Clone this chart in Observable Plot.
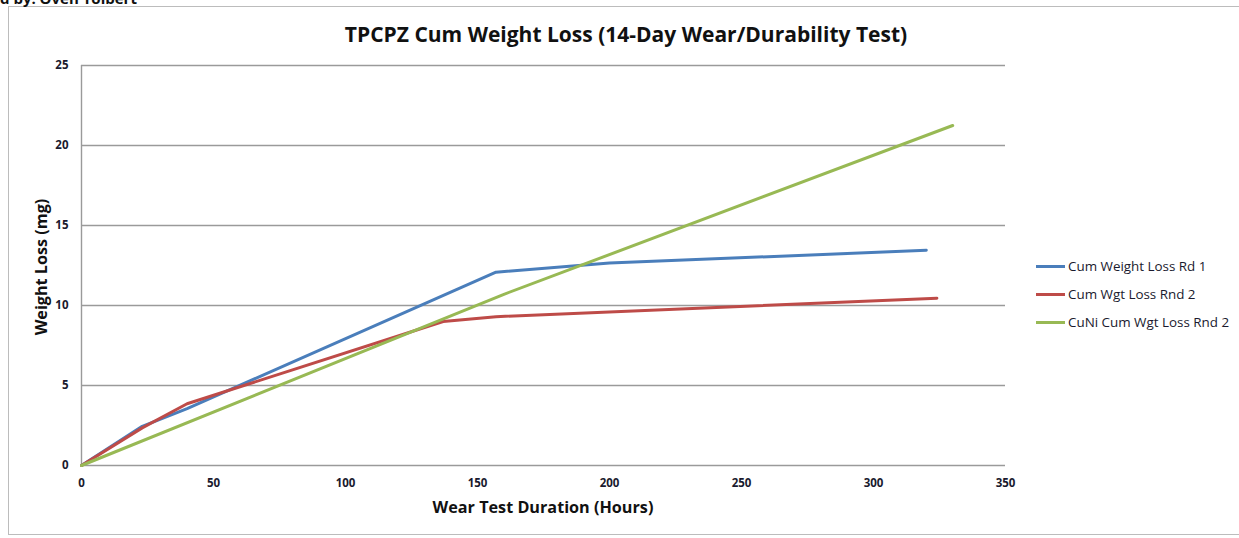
<!DOCTYPE html>
<html>
<head>
<meta charset="utf-8">
<script src="https://cdn.jsdelivr.net/npm/d3@7"></script>
<script src="https://cdn.jsdelivr.net/npm/@observablehq/plot@0.6"></script>
<style>
  html, body { margin: 0; padding: 0; background: #fff; }
  body { width: 1239px; height: 538px; overflow: hidden; position: relative; font-family: "Open Sans", Lato, sans-serif; }
  #frame { position: absolute; left: 8px; top: 6px; width: 1250px; height: 529px; border: 1.5px solid #bcbcbc; box-sizing: border-box; }
  #chart { position: absolute; left: 0; top: 0; }
  #chart svg text { font-weight: 700; }
  .abs { position: absolute; white-space: nowrap; color: #111; font-weight: 700; line-height: 1; }
  #credit { left: 0; top: -9px; font-size: 15px; }
  #title { left: 626px; top: 24px; transform: translateX(-50%); font-size: 21px; }
  #xlabel { left: 543px; top: 499px; transform: translateX(-50%); font-size: 16.2px; }
  #ylabel { left: 41px; top: 267px; transform: translate(-50%, -50%) rotate(-90deg); font-size: 16.2px; }
  #legend { position: absolute; left: 1036px; top: 252px; }
  .item { display: flex; align-items: center; height: 28px; font-size: 13.4px; color: #1a1a2e; }
  .sw { width: 29px; height: 3px; margin-right: 3px; }
</style>
</head>
<body>
<div id="frame"></div>
<div id="chart"></div>
<div class="abs" id="credit">d by: Oven Tolbert</div>
<div class="abs" id="title">TPCPZ Cum Weight Loss (14-Day Wear/Durability Test)</div>
<div class="abs" id="xlabel">Wear Test Duration (Hours)</div>
<div class="abs" id="ylabel">Weight Loss (mg)</div>
<div id="legend"></div>
<script>
// ---- data ----
const seriesNames = ["Cum Weight Loss Rd 1", "Cum Wgt Loss Rnd 2", "CuNi Cum Wgt Loss Rnd 2"];
const seriesColors = ["#4a7ebb", "#be4b48", "#98b954"];

const rd1Hours = [0, 23, 40, 157, 200, 320];
const rd1Loss  = [0, 2.45, 3.56, 12.08, 12.65, 13.45];

const rnd2Hours = [0, 23, 40, 137, 157, 324];
const rnd2Loss  = [0, 2.35, 3.86, 9.0, 9.3, 10.46];

const cuniHours = [0, 160, 330];
const cuniLoss  = [0, 10.7, 21.25];

const xTicks = [0, 50, 100, 150, 200, 250, 300, 350];
const yTicks = [0, 5, 10, 15, 20, 25];

// ---- build table ----
const rows = [];
[[rd1Hours, rd1Loss], [rnd2Hours, rnd2Loss], [cuniHours, cuniLoss]].forEach(([hs, ls], i) => {
  hs.forEach((h, j) => rows.push({series: seriesNames[i], hours: h, loss: ls[j]}));
});

const chart = Plot.plot({
  width: 1239,
  height: 538,
  marginLeft: 81,
  marginRight: 234,
  marginTop: 65,
  marginBottom: 73,
  style: { fontFamily: "'Open Sans', Lato, sans-serif", fontSize: "11.5px", color: "#1a1a2e", background: "transparent" },
  x: { domain: [0, 350] },
  y: { domain: [0, 25] },
  color: { domain: seriesNames, range: seriesColors },
  marks: [
    Plot.ruleY(yTicks, { stroke: "#9a9a9a", strokeWidth: 1.4 }),
    Plot.ruleX([0], { stroke: "#9a9a9a", strokeWidth: 1.4 }),
    Plot.line(rows, { x: "hours", y: "loss", z: "series", stroke: "series", strokeWidth: 3, strokeLinejoin: "round", strokeLinecap: "round" }),
    Plot.axisX(xTicks, { tickSize: 0, tickPadding: 13, label: null, fill: "#1a1a2e" }),
    Plot.axisY(yTicks, { tickSize: 0, tickPadding: 13, label: null, fill: "#1a1a2e" })
  ]
});
document.getElementById("chart").appendChild(chart);

// ---- legend ----
const legend = document.getElementById("legend");
seriesNames.forEach((name, i) => {
  const item = document.createElement("div");
  item.className = "item";
  const sw = document.createElement("div");
  sw.className = "sw";
  sw.style.background = seriesColors[i];
  const label = document.createElement("span");
  label.textContent = name;
  item.appendChild(sw);
  item.appendChild(label);
  legend.appendChild(item);
});
</script>
</body>
</html>
